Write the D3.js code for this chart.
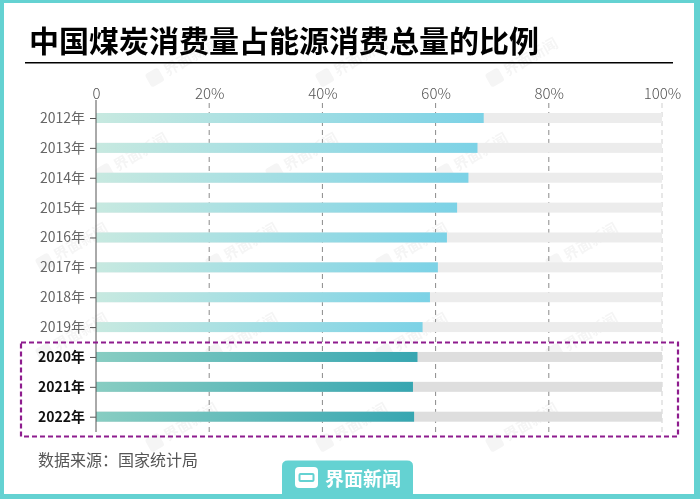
<!DOCTYPE html>
<html>
<head>
<meta charset="utf-8">
<script src="https://cdn.jsdelivr.net/npm/d3@7"></script>
<style>
  html, body { margin: 0; padding: 0; background: #fff; }
  svg { display: block; }
  text { font-family: "Noto Sans CJK SC", "Noto Sans", sans-serif; }
</style>
</head>
<body>
<script>
// ---- data ----
const years = ["2012年","2013年","2014年","2015年","2016年","2017年","2018年","2019年","2020年","2021年","2022年"];
const coalShare = [68.5, 67.4, 65.8, 63.8, 62.0, 60.4, 59.0, 57.7, 56.8, 56.0, 56.2];
const highlighted = ["2020年","2021年","2022年"];
const xTicks = [0, 20, 40, 60, 80, 100];
const xTickLabels = ["0", "20%", "40%", "60%", "80%", "100%"];
const titleText = "中国煤炭消费量占能源消费总量的比例";
const sourceText = "数据来源：国家统计局";
const brandText = "界面新闻";

const W = 700, H = 499;
const svg = d3.select("body").append("svg").attr("width", W).attr("height", H);
const defs = svg.append("defs");

const gNormal = defs.append("linearGradient").attr("id", "gNormal").attr("x1", "0").attr("x2", "1").attr("y1", "0").attr("y2", "0");
gNormal.append("stop").attr("offset", "0").attr("stop-color", "#c7e9e0");
gNormal.append("stop").attr("offset", "1").attr("stop-color", "#7cd2e6");
const gHi = defs.append("linearGradient").attr("id", "gHi").attr("x1", "0").attr("x2", "1").attr("y1", "0").attr("y2", "0");
gHi.append("stop").attr("offset", "0").attr("stop-color", "#88cdc2");
gHi.append("stop").attr("offset", "1").attr("stop-color", "#37a6b1");

// frame
const teal = "#64d2d2";
svg.append("rect").attr("x", 0).attr("y", 0).attr("width", W).attr("height", H).attr("fill", teal);
svg.append("rect").attr("x", 4).attr("y", 3).attr("width", W - 10).attr("height", H - 8).attr("fill", "#fff");

// watermarks
const wm = svg.append("g").attr("fill", "#000").attr("opacity", 0.04).attr("font-size", 15).attr("font-weight", 700);
[[170,75],[340,75],[510,75],[230,260],[400,260],[570,260],[60,260],[170,440],[340,440],[510,440],[120,170],[290,170],[460,170],[60,350],[230,350],[400,350],[570,350]].forEach(p => {
  const g = wm.append("g").attr("transform", `translate(${p[0]},${p[1]}) rotate(-30)`);
  g.append("rect").attr("x", -22).attr("y", -13).attr("width", 15).attr("height", 15).attr("rx", 3);
  g.append("text").attr("x", -3).attr("y", 0).text(brandText);
});

// title
svg.append("text").attr("x", 29).attr("y", 52).attr("font-size", 30).attr("font-weight", 700).attr("fill", "#000").text(titleText);
svg.append("line").attr("x1", 25).attr("x2", 673).attr("y1", 62.7).attr("y2", 62.7).attr("stroke", "#000").attr("stroke-width", 1.5);

// scales
const x = d3.scaleLinear().domain([0, 100]).range([96, 662]);
const y = d3.scalePoint().domain(years).range([118, 416.7]);
const barH = 10;

// gridlines
const grid = svg.append("g");
grid.selectAll("line").data(xTicks.filter(t => t > 0)).join("line")
  .attr("x1", d => x(d)).attr("x2", d => x(d))
  .attr("y1", 103).attr("y2", 432)
  .attr("stroke", d => d === 100 ? "#cfcfcf" : "#8a8a8a")
  .attr("stroke-width", 1)
  .attr("stroke-dasharray", "5,4");

// top axis labels
const xAxis = d3.axisTop(x).tickValues(xTicks).tickFormat((d, i) => xTickLabels[i]).tickSize(0).tickPadding(0);
const xg = svg.append("g").attr("transform", "translate(0,99)").call(xAxis);
xg.select(".domain").remove();
xg.selectAll("text").attr("font-size", 15).attr("font-weight", 300).attr("fill", "#555")
  .style("font-family", "'Noto Sans CJK SC', sans-serif");

// background bars
svg.append("g").selectAll("rect").data(years).join("rect")
  .attr("x", x(0)).attr("width", x(100) - x(0))
  .attr("y", d => y(d) - barH / 2).attr("height", barH)
  .attr("fill", d => highlighted.includes(d) ? "#dedede" : "#ececec");

// value bars
svg.append("g").selectAll("rect").data(years).join("rect")
  .attr("x", x(0)).attr("width", (d, i) => x(coalShare[i]) - x(0))
  .attr("y", d => y(d) - barH / 2).attr("height", barH)
  .attr("fill", d => highlighted.includes(d) ? "url(#gHi)" : "url(#gNormal)");

// left axis
const yAxis = d3.axisLeft(y).tickSize(6).tickPadding(5);
const yg = svg.append("g").attr("transform", "translate(96,0)").call(yAxis);
yg.select(".domain").remove();
yg.selectAll(".tick line").attr("stroke", "#555");
yg.selectAll("text").attr("font-size", 14)
  .attr("fill", d => highlighted.includes(d) ? "#111" : "#666")
  .attr("font-weight", d => highlighted.includes(d) ? 700 : 400)
  .style("font-family", "'Noto Sans CJK SC', sans-serif");
svg.append("line").attr("x1", 96).attr("x2", 96).attr("y1", 100).attr("y2", 432).attr("stroke", "#555").attr("stroke-width", 1);

// highlight box
svg.append("rect").attr("x", 21).attr("y", 342.5).attr("width", 657).attr("height", 94)
  .attr("fill", "none").attr("stroke", "#8e1c8e").attr("stroke-width", 2.2).attr("stroke-dasharray", "5,3");

// source
svg.append("text").attr("x", 38).attr("y", 466).attr("font-size", 16).attr("fill", "#555").text(sourceText);

// brand tab
svg.append("path")
  .attr("d", "M282,499 L282,466 Q282,460.5 288,460.5 L407,460.5 Q413,460.5 413,466 L413,499 Z")
  .attr("fill", teal);
svg.append("rect").attr("x", 295).attr("y", 467).attr("width", 23).attr("height", 21).attr("rx", 4).attr("fill", "#fff");
svg.append("rect").attr("x", 299.5).attr("y", 474).attr("width", 14).attr("height", 7).attr("rx", 1).attr("fill", "none").attr("stroke", teal).attr("stroke-width", 2);
svg.append("text").attr("x", 325).attr("y", 485.5).attr("font-size", 19).attr("font-weight", 700).attr("fill", "#fff").text(brandText);
</script>
</body>
</html>
